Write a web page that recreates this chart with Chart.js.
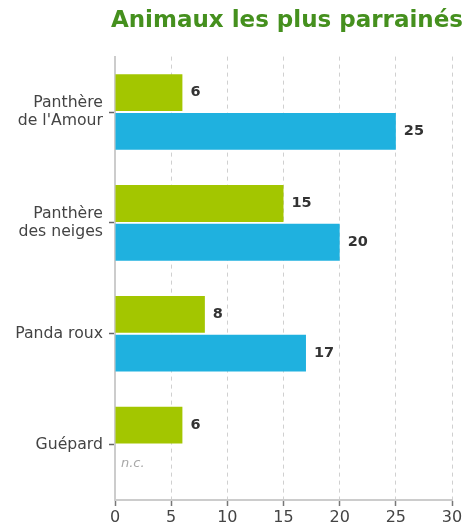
<!DOCTYPE html>
<html>
<head>
<meta charset="utf-8">
<script src="https://cdn.jsdelivr.net/npm/chart.js@4/dist/chart.umd.min.js"></script>
<style>
	html, body { margin: 0; padding: 0; background: #fff; }
</style>
</head>
<body>
<canvas id="chart" width="476" height="531"></canvas>
<script>
// data
const categories = [["Panthère", "de l'Amour"], ["Panthère", "des neiges"], "Panda roux", "Guépard"];
const seriesGreen = [6, 15, 8, 6];
const seriesBlue = [25, 20, 17, null];
const xTicks = [0, 5, 10, 15, 20, 25, 30];
const titleText = "Animaux les plus parrainés";
const missingText = "n.c.";

const FONT = '"DejaVu Sans", Verdana, sans-serif';

// writes the value at the end of each bar, or n.c. when there is none
const valueLabels = {
	id: 'valueLabels',
	afterDatasetsDraw(chart) {
		let ctx = chart.ctx;
		ctx.save();
		ctx.textBaseline = 'middle';
		ctx.textAlign = 'left';
		chart.data.datasets.forEach((ds, i) => {
			let meta = chart.getDatasetMeta(i);
			meta.data.forEach((bar, j) => {
				let v = ds.data[j];
				if (v == null) {
					ctx.font = 'italic 13px ' + FONT;
					ctx.fillStyle = '#a8a8a8';
					ctx.fillText(missingText, chart.chartArea.left + 6, bar.y);
				} else {
					ctx.font = 'bold 14.5px ' + FONT;
					ctx.fillStyle = '#333';
					ctx.fillText(v, bar.x + 8, bar.y);
				}
			});
		});
		ctx.restore();
	}
};

new Chart(document.getElementById('chart'), {
	type: 'bar',
	data: {
		labels: categories,
		datasets: [{
			label: 'Série 1',
			data: seriesGreen,
			backgroundColor: '#a3c600',
			categoryPercentage: 0.7,
			barPercentage: 0.95
		},
		{
			label: 'Série 2',
			data: seriesBlue,
			backgroundColor: '#1fb1df',
			categoryPercentage: 0.7,
			barPercentage: 0.95
		}]
	},
	options: {
		indexAxis: 'y',
		responsive: false,
		animation: false,
		layout: { padding: { left: 0, right: 13, top: 0, bottom: 1 } },
		plugins: {
			legend: { display: false },
			tooltip: { enabled: false },
			title: {
				display: true,
				text: titleText,
				align: 'end',
				color: '#45901e',
				font: { family: FONT, size: 23, weight: 'bold' },
				padding: { top: 7, bottom: 22 }
			}
		},
		scales: {
			x: {
				min: 0,
				max: 30,
				afterBuildTicks: scale => { scale.ticks = xTicks.map(v => ({ value: v })); },
				// keep the plot ending at 30 a bit left of the title's end
				afterFit: scale => { scale.paddingRight = 24; },
				grid: {
					color: c => c.index === 0 ? 'rgba(0,0,0,0)' : '#d0d0d0',
					lineWidth: 1,
					tickColor: '#777',
					tickWidth: 1.5,
					tickLength: 6
				},
				border: { color: '#cccccc', width: 2, dash: [4, 4] },
				ticks: {
					color: '#444',
					padding: 4,
					font: { family: FONT, size: 16, lineHeight: 1.0 }
				}
			},
			y: {
				afterFit: scale => { scale.width = 115; },
				grid: {
					drawOnChartArea: false,
					offset: false,
					tickColor: '#666',
					tickWidth: 1.5,
					tickLength: 6
				},
				border: { color: '#cccccc', width: 2 },
				ticks: {
					color: '#444',
					padding: 6,
					font: { family: FONT, size: 15.7, lineHeight: 1.1 }
				}
			}
		}
	},
	plugins: [valueLabels]
});
</script>
</body>
</html>
